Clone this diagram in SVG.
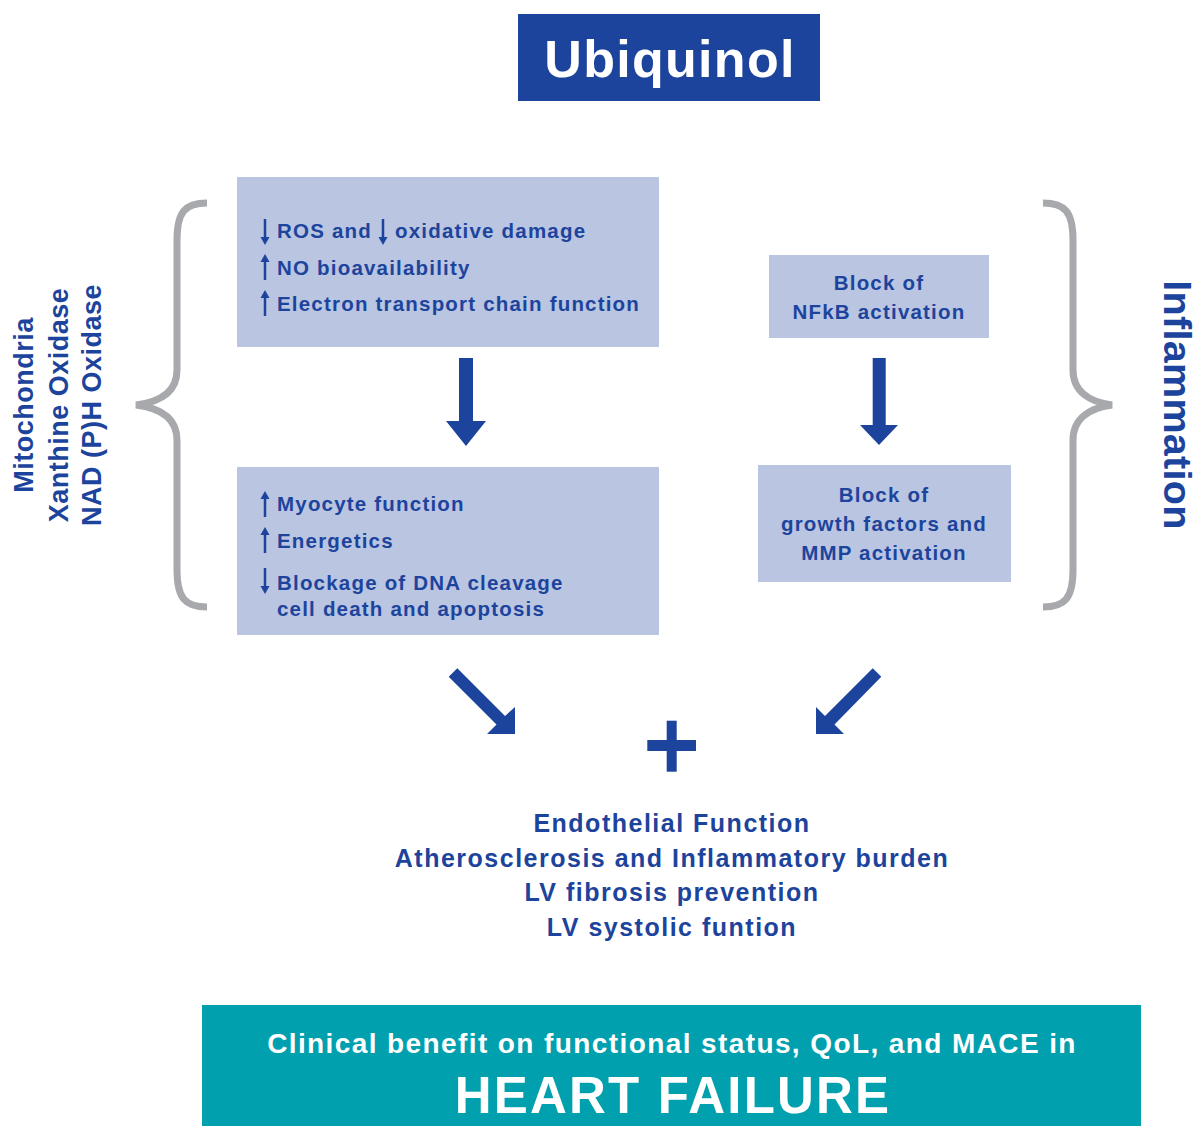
<svg xmlns="http://www.w3.org/2000/svg" width="1200" height="1126" viewBox="0 0 1200 1126">
<defs>
<style>
.t{font-family:"Liberation Sans",Arial,sans-serif;font-weight:bold;fill:#1d449c;}
.b{font-size:20.5px;letter-spacing:1.2px;}
.o{font-size:25px;letter-spacing:1.5px;}
.box{fill:#b9c5e1;}
.brace{fill:none;stroke:#a7a9ac;stroke-width:7;stroke-linecap:butt;}
.big{fill:#1d449c;}
.sa{stroke:#1d449c;stroke-width:2.5;fill:none;}
.w{font-family:"Liberation Sans",Arial,sans-serif;font-weight:bold;fill:#ffffff;}
</style>
<g id="up"><line class="sa" x1="0" y1="5" x2="0" y2="26"/><path d="M-4.5,8 L0,0 L4.5,8 Z" fill="#1d449c"/></g>
<g id="dn"><line class="sa" x1="0" y1="0" x2="0" y2="21"/><path d="M-4.5,18 L0,26 L4.5,18 Z" fill="#1d449c"/></g>
</defs>
<rect width="1200" height="1126" fill="#ffffff"/>

<g id="title">
<rect x="518" y="14" width="302" height="87" fill="#1d449c"/>
<text class="w" x="670" y="77" text-anchor="middle" font-size="52" letter-spacing="1.3">Ubiquinol</text>
</g>

<g id="braces">
<path class="brace" d="M207,203 C185,203 177,212 177,240 L177,370 C177,392 160,402 136,405 C160,408 177,418 177,440 L177,570 C177,598 185,607 207,607"/>
<path class="brace" d="M1043,203 C1065,203 1073,212 1073,240 L1073,370 C1073,392 1090,402 1112,405 C1090,408 1073,418 1073,440 L1073,570 C1073,598 1065,607 1043,607"/>
</g>

<g id="left-labels">
<text class="t" font-size="27" letter-spacing="0.5" text-anchor="middle" transform="translate(33,405) rotate(-90)">Mitochondria</text>
<text class="t" font-size="27" letter-spacing="0.5" text-anchor="middle" transform="translate(68,405) rotate(-90)">Xanthine Oxidase</text>
<text class="t" font-size="27" letter-spacing="0.5" text-anchor="middle" transform="translate(101,405) rotate(-90)">NAD (P)H Oxidase</text>
</g>

<g id="right-label">
<text class="t" font-size="39.5" letter-spacing="0.3" text-anchor="middle" transform="translate(1164,405) rotate(90)">Inflammation</text>
</g>

<g id="box1">
<rect class="box" x="237" y="177" width="422" height="170"/>
<use href="#dn" x="265" y="219"/>
<use href="#dn" x="383" y="219"/>
<use href="#up" x="265" y="254"/>
<use href="#up" x="265" y="290"/>
<text class="t b" x="277" y="238">ROS and</text>
<text class="t b" x="395" y="238">oxidative damage</text>
<text class="t b" x="277" y="275">NO bioavailability</text>
<text class="t b" x="277" y="311">Electron transport chain function</text>
</g>

<g id="box2">
<rect class="box" x="237" y="467" width="422" height="168"/>
<use href="#up" x="265" y="491"/>
<use href="#up" x="265" y="527"/>
<use href="#dn" x="265" y="568"/>
<text class="t b" x="277" y="511">Myocyte function</text>
<text class="t b" x="277" y="548">Energetics</text>
<text class="t b" x="277" y="590">Blockage of DNA cleavage</text>
<text class="t b" x="277" y="616">cell death and apoptosis</text>
</g>

<g id="box3">
<rect class="box" x="769" y="255" width="220" height="83"/>
<text class="t b" x="879" y="290" text-anchor="middle">Block of</text>
<text class="t b" x="879" y="319" text-anchor="middle">NFkB activation</text>
</g>

<g id="box4">
<rect class="box" x="758" y="465" width="253" height="117"/>
<text class="t b" x="884" y="502" text-anchor="middle">Block of</text>
<text class="t b" x="884" y="531" text-anchor="middle">growth factors and</text>
<text class="t b" x="884" y="560" text-anchor="middle">MMP activation</text>
</g>

<g id="connectors">
<path class="big" d="M459,358 L473,358 L473,421 L486,421 L466,446 L446,421 L459,421 Z"/>
<path class="big" d="M872.7,358 L885.7,358 L885.7,425 L898,425 L879,445 L860,425 L872.7,425 Z"/>
<path class="big" d="M448.7,676.7 L457.3,668.3 L505,716 L515,707 L515,734 L487,734 L496.5,724.5 Z"/>
<path class="big" d="M881.3,676.7 L872.7,668.3 L825,716 L816,707 L816,734 L844,734 L834.5,724.5 Z"/>
</g>

<g id="plus">
<rect class="big" x="666.7" y="720.7" width="10" height="51"/>
<rect class="big" x="647.3" y="740" width="48.7" height="11"/>
</g>

<g id="outcomes">
<text class="t o" x="672" y="832" text-anchor="middle">Endothelial Function</text>
<text class="t o" x="672" y="867" text-anchor="middle">Atherosclerosis and Inflammatory burden</text>
<text class="t o" x="672" y="901" text-anchor="middle">LV fibrosis prevention</text>
<text class="t o" x="672" y="936" text-anchor="middle">LV systolic funtion</text>
</g>

<g id="benefit">
<rect x="202" y="1005" width="939" height="121" fill="#00a0ae"/>
<text class="w" x="672" y="1053" text-anchor="middle" font-size="28" letter-spacing="1.4">Clinical benefit on functional status, QoL, and MACE in</text>
<text class="w" x="673" y="1113" text-anchor="middle" font-size="51" letter-spacing="2.2">HEART FAILURE</text>
</g>
</svg>
